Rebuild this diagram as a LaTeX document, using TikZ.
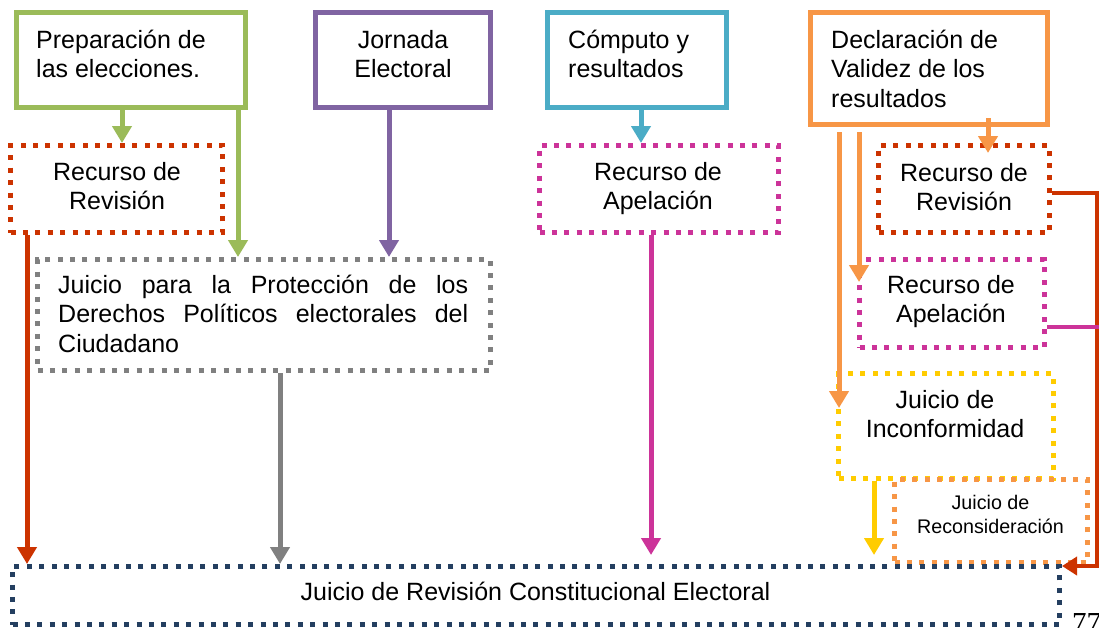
\documentclass[tikz,border=0pt]{standalone}
\usepackage{fontspec}
\setmainfont{Liberation Sans}
\newfontfamily\serifnum{Liberation Serif}
\usetikzlibrary{arrows.meta,calc}
\hyphenpenalty=10000
\exhyphenpenalty=10000
\definecolor{cGreen}{HTML}{9BBB59}
\definecolor{cPurple}{HTML}{8064A2}
\definecolor{cBlue}{HTML}{4BACC6}
\definecolor{cOrange}{HTML}{F79646}
\definecolor{cRed}{HTML}{CC3300}
\definecolor{cMag}{HTML}{CC3399}
\definecolor{cGray}{HTML}{808080}
\definecolor{cYellow}{HTML}{FFCC00}
\definecolor{cNavy}{HTML}{243F60}
\newcommand\tst{\rule{0pt}{24pt}}
\tikzset{
  solidbox/.style={draw=#1, line width=5pt, inner sep=0pt},
  dotbox/.style={draw=#1, line width=5pt, inner sep=0pt, dash pattern=on 5pt off 7.4pt},
  arr/.style={draw=#1, line width=5pt, -{Triangle[width=19pt,length=17pt]}},
  thinarr/.style={draw=#1, line width=4pt, line join=miter, -{Triangle[width=18pt,length=15pt]}},
  link/.style={draw=#1, line width=4pt},
  txt/.style={inner sep=0pt, anchor=north, align=center, font=\fontsize{25}{29.5}\selectfont},
  txtl/.style={txt, anchor=north west, align=left},
  txts/.style={inner sep=0pt, anchor=north, align=center, font=\fontsize{19.7}{24}\selectfont},
}
\begin{document}
\begin{tikzpicture}[x=1pt,y=-1pt]
\useasboundingbox (0,0) rectangle (1099,627);
% boxes
\node[solidbox=cGreen, minimum width=229pt, minimum height=95pt] (prep) at (130.5,60) {};
\node[solidbox=cPurple, minimum width=175pt, minimum height=95pt] (jorn) at (403,60) {};
\node[solidbox=cBlue, minimum width=179pt, minimum height=95pt] (comp) at (637,60) {};
\node[solidbox=cOrange, minimum width=237pt, minimum height=112pt] (decl) at (929,68.5) {};
\node[dotbox=cRed, minimum width=212pt, minimum height=87pt] (rev1) at (116.5,189) {};
\node[dotbox=cGray, minimum width=453pt, minimum height=111pt] (jdc) at (264,315) {};
\node[dotbox=cMag, minimum width=239pt, minimum height=87pt] (apel1) at (659,189) {};
\node[dotbox=cRed, minimum width=171pt, minimum height=87pt] (rev2) at (964,189) {};
\node[dotbox=cMag, minimum width=185pt, minimum height=88pt] (apel2) at (952,303.5) {};
\node[dotbox=cYellow, minimum width=215pt, minimum height=105pt] (jinc) at (946,426) {};
\node[dotbox=cOrange, minimum width=193pt, minimum height=83pt] (jrec) at (991,521) {};
\node[dotbox=cNavy, minimum width=1047pt, minimum height=58pt] (jrce) at (536,595.5) {};
% texts
\node[txtl] (prepT) at (36,24) {\tst Preparación de\\las elecciones.};
\node[txt] (jornT) at (403,24) {\tst Jornada\\Electoral};
\node[txtl] (compT) at (568,24) {\tst Cómputo y\\resultados};
\node[txtl] (declT) at (831,24) {\tst Declaración de\\Validez de los\\resultados};
\node[txt] (rev1T) at (117,156) {\tst Recurso de\\Revisión};
\node[txt] (apel1T) at (658,156) {\tst Recurso de\\Apelación};
\node[txt] (rev2T) at (964,157) {\tst Recurso de\\Revisión};
\node[txt] (apel2T) at (951,269) {\tst Recurso de\\Apelación};
\node[txt] (jincT) at (945,384) {\tst Juicio de\\Inconformidad};
\node[txts] (jrecT) at (990.5,485) {\tst Juicio de\\Reconsideración};
\node[txt, anchor=north west, text width=410pt, align=justify] (jdcT) at (58,269)
  {\tst Juicio para la Protección de los Derechos Políticos electorales del Ciudadano};
\node[txt] (jrceT) at (535.5,576) {\tst Juicio de Revisión Constitucional Electoral};
\node[anchor=base west, inner sep=0pt, font=\serifnum\fontsize{29}{33}\selectfont] (pg) at (1072,632) {77};
% x positions of connectors
\coordinate (xg1) at (122,0);
\coordinate (xg2) at (238,0);
\coordinate (xp) at (389,0);
\coordinate (xb) at (641,0);
\coordinate (xr1) at (27,0);
\coordinate (xgy) at (280,0);
\coordinate (xm) at (651,0);
\coordinate (xo) at (988,0);
\coordinate (xo1) at (839,0);
\coordinate (xo2) at (859,0);
\coordinate (xy) at (874,0);
\coordinate (rc1) at (1097,193);
\coordinate (rc2) at (1097,566);
\coordinate (mc) at (1099,327);
% connectors
\draw[arr=cGreen] (prep.south -| xg1) -- (rev1.north -| xg1);
\draw[arr=cGreen] (prep.south -| xg2) -- (jdc.north -| xg2);
\draw[arr=cPurple] (jorn.south -| xp) -- (jdc.north -| xp);
\draw[arr=cBlue] (comp.south -| xb) -- (apel1.north -| xb);
\draw[arr=cRed] (rev1.south -| xr1) -- (jrce.north -| xr1);
\draw[arr=cGray] (jdc.south -| xgy) -- (jrce.north -| xgy);
\draw[arr=cMag, shorten >=9pt] (apel1.south -| xm) -- (jrce.north -| xm);
\draw[arr=cOrange] ($(decl.south -| xo)+(0,-9)$) -- ($(rev2.north -| xo)+(0,10)$);
\draw[arr=cOrange] ($(decl.south -| xo1)+(0,5)$) -- ($(jinc.north -| xo1)+(0,37)$);
\draw[arr=cOrange] ($(decl.south -| xo2)+(0,5)$) -- ($(apel2.north -| xo2)+(0,25)$);
\draw[arr=cYellow, shorten >=9pt] (jinc.south -| xy) -- (jrce.north -| xy);
\draw[thinarr=cRed] ($(rev2.east)+(0,4)$) -- (rc1) -- (rc2) -- (jrce.north east |- rc2);
\draw[link=cMag, line width=4.5pt] ($(apel2.east)+(0,23.5)$) -- (mc);
\end{tikzpicture}
\end{document}
